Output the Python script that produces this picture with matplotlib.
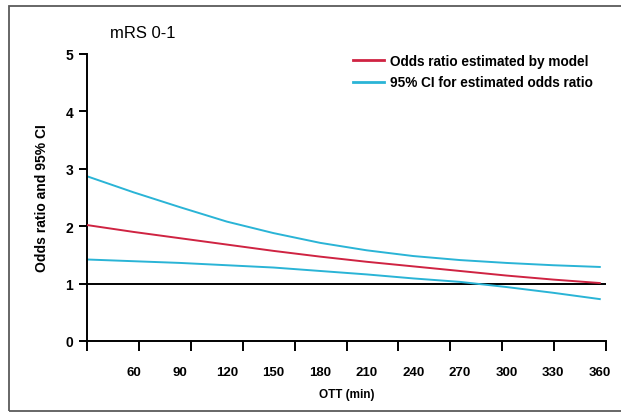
import numpy as np
import matplotlib
matplotlib.use('Agg')
import matplotlib.pyplot as plt
from matplotlib.lines import Line2D
from matplotlib.patches import Rectangle

# data
ott = [30, 60, 90, 120, 150, 180, 210, 240, 270, 300, 330, 360]
odds_ratio = [2.02, 1.90, 1.79, 1.68, 1.57, 1.47, 1.38, 1.30, 1.22, 1.14, 1.07, 1.01]
ci_upper = [2.87, 2.59, 2.33, 2.08, 1.88, 1.71, 1.58, 1.48, 1.41, 1.36, 1.32, 1.29]
ci_lower = [1.42, 1.39, 1.36, 1.32, 1.28, 1.22, 1.16, 1.09, 1.03, 0.94, 0.84, 0.73]
xtick_labels = [60, 90, 120, 150, 180, 210, 240, 270, 300, 330, 360]
ytick_labels = [0, 1, 2, 3, 4, 5]

FONT = 'Liberation Sans'
RED = '#cf2342'
CYAN = '#2ab4d6'

fig = plt.figure(figsize=(6.21, 4.14), dpi=100)
# grey frame round the picture (right side runs off the edge)
fig.patches.append(Rectangle((9 / 621, 1 - 412 / 414), 1.2, 405 / 414,
                             transform=fig.transFigure, fill=False,
                             edgecolor='#5a5a5a', linewidth=1.3))

ax = fig.add_axes([87 / 621, 1 - 342 / 414, 519 / 621, 287 / 414])
ax.set_xlim(30, 364)
ax.set_ylim(0, 5)

ax.axhline(1, color='black', lw=1.4, zorder=1)
ax.plot(ott, ci_upper, color=CYAN, lw=1.4, zorder=2)
ax.plot(ott, ci_lower, color=CYAN, lw=1.4, zorder=2)
ax.plot(ott, odds_ratio, color=RED, lw=1.4, zorder=3)

for s in ['top', 'right']:
    ax.spines[s].set_visible(False)
for s in ['left', 'bottom']:
    ax.spines[s].set_linewidth(1.4)

# tick marks evenly spread, labels placed on the minute values
ax.set_xticks(np.linspace(30, 364, 11))
ax.set_xticklabels([])
ax.tick_params(axis='x', which='major', length=7, width=1.4, direction='out')
ax.set_xticks(xtick_labels, minor=True)
ax.set_xticklabels([str(v) for v in xtick_labels], minor=True,
                   fontfamily=FONT, fontweight='bold', fontsize=9.5)
ax.tick_params(axis='x', which='minor', length=0, pad=18)

ax.set_yticks(ytick_labels)
ax.set_yticklabels([str(v) for v in ytick_labels],
                   fontfamily=FONT, fontweight='bold', fontsize=10)
ax.tick_params(axis='y', length=6, width=1.4, pad=4)

ax.set_xlabel('OTT (min)', fontfamily=FONT, fontweight='bold', fontsize=8.5, labelpad=7)
ax.set_ylabel('Odds ratio and 95% CI', fontfamily=FONT, fontweight='bold', fontsize=10, labelpad=12)

fig.text(110 / 621, 1 - 34 / 414, 'mRS 0-1', fontfamily=FONT,
         fontsize=12, ha='left', va='center')

handles = [Line2D([], [], color=RED, lw=2), Line2D([], [], color=CYAN, lw=2)]
ax.legend(handles, ['Odds ratio estimated by model', '95% CI for estimated odds ratio'],
          loc='upper left', bbox_to_anchor=(346 / 621, 1 - 48 / 414),
          bbox_transform=fig.transFigure, frameon=False, borderpad=0,
          handlelength=2.3, handletextpad=0.4, labelspacing=0.55,
          prop={'family': FONT, 'weight': 'bold', 'size': 9.8})

fig.savefig('out.png', dpi=100)
